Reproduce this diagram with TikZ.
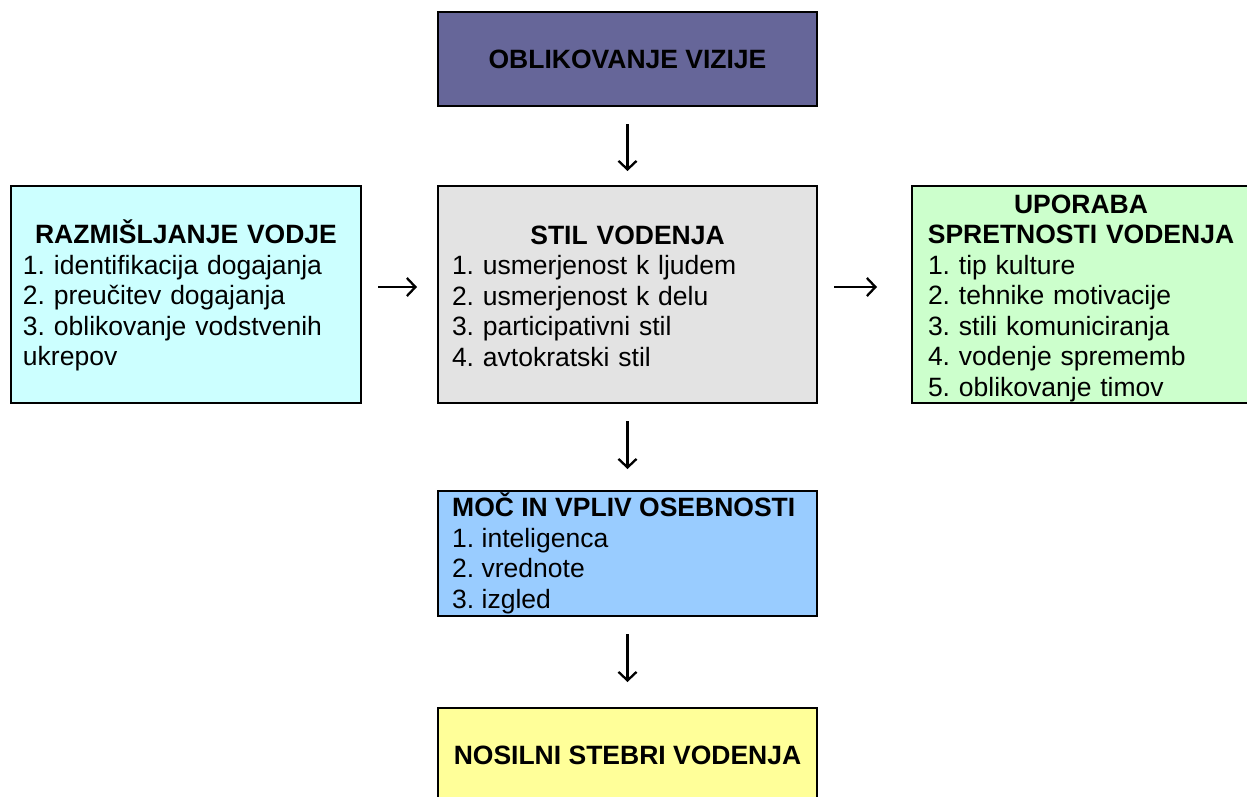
\documentclass[tikz,border=0pt]{standalone}
\usepackage{fontspec}
\setmainfont{Liberation Sans}
\usetikzlibrary{arrows.meta}
\definecolor{topc}{HTML}{666699}
\definecolor{leftc}{HTML}{CCFFFF}
\definecolor{midc}{HTML}{E3E3E3}
\definecolor{rightc}{HTML}{CCFFCC}
\definecolor{mocc}{HTML}{99CCFF}
\definecolor{botc}{HTML}{FFFF99}
\frenchspacing
\begin{document}
\begin{tikzpicture}[x=1pt,y=-1pt,
  box/.style={draw, line width=2pt, rectangle, inner sep=0pt},
  txt/.style={inner sep=0pt, font=\fontsize{26.5}{30.5}\selectfont\frenchspacing, align=left},
  conn/.style={line width=2.3pt, -{Straight Barb[length=8.5pt,width=18pt,line width=2.3pt]}}]
\useasboundingbox (0,0) rectangle (1247,796);
% boxes
\node[box, fill=topc, minimum width=379pt, minimum height=94pt] (top) at (627.5,59) {};
\node[box, fill=leftc, minimum width=350pt, minimum height=217pt] (left) at (186,294.5) {};
\node[box, fill=midc, minimum width=379pt, minimum height=217pt] (mid) at (627.5,294.5) {};
\node[box, fill=rightc, minimum width=338pt, minimum height=217pt] (right) at (1081,294.5) {};
\node[box, fill=mocc, minimum width=379pt, minimum height=125pt] (moc) at (627.5,553.5) {};
\node[box, fill=botc, minimum width=379pt, minimum height=94pt] (bot) at (627.5,755) {};
% texts
\node[txt, font=\fontsize{26.5}{30.5}\selectfont\bfseries] (toptxt) at (top.center) {OBLIKOVANJE VIZIJE};
\node[txt, text width=326pt] (lefttxt) at (186,295.5)
  {\makebox[326pt][c]{\bfseries RAZMIŠLJANJE VODJE}\\
   1. identifikacija dogajanja\\
   2. preučitev dogajanja\\
   3. oblikovanje vodstvenih\\
   ukrepov};
\node[txt, text width=351pt] (midtxt) at (627.5,296)
  {\makebox[351pt][c]{\bfseries STIL VODENJA}\\
   1. usmerjenost k ljudem\\
   2. usmerjenost k delu\\
   3. participativni stil\\
   4. avtokratski stil};
\node[txt, text width=306pt] (righttxt) at (1081,298.3)
  {\makebox[306pt][c]{\bfseries UPORABA}\\
   \makebox[306pt][c]{\bfseries SPRETNOSTI VODENJA}\\
   1. tip kulture\\
   2. tehnike motivacije\\
   3. stili komuniciranja\\
   4. vodenje sprememb\\
   5. oblikovanje timov};
\node[txt, anchor=west] (moctxt) at (452,553.3)
  {\textbf{MOČ IN VPLIV OSEBNOSTI}\\
   1. inteligenca\\
   2. vrednote\\
   3. izgled};
\node[txt, font=\fontsize{26.5}{30.5}\selectfont\bfseries] (bottxt) at (627.5,755) {NOSILNI STEBRI VODENJA};
% connectors
\draw[conn, shorten <=17pt, shorten >=14pt] (top) -- (mid);
\draw[conn, shorten <=16pt, shorten >=20pt] ([yshift=7.5pt]left.east) -- ([yshift=7.5pt]mid.west);
\draw[conn, shorten <=16pt, shorten >=34pt] ([yshift=7.5pt]mid.east) -- ([yshift=7.5pt]right.west);
\draw[conn, shorten <=17pt, shorten >=21pt] (mid) -- (moc);
\draw[conn, shorten <=17pt, shorten >=25pt] (moc) -- (bot);
\end{tikzpicture}
\end{document}
